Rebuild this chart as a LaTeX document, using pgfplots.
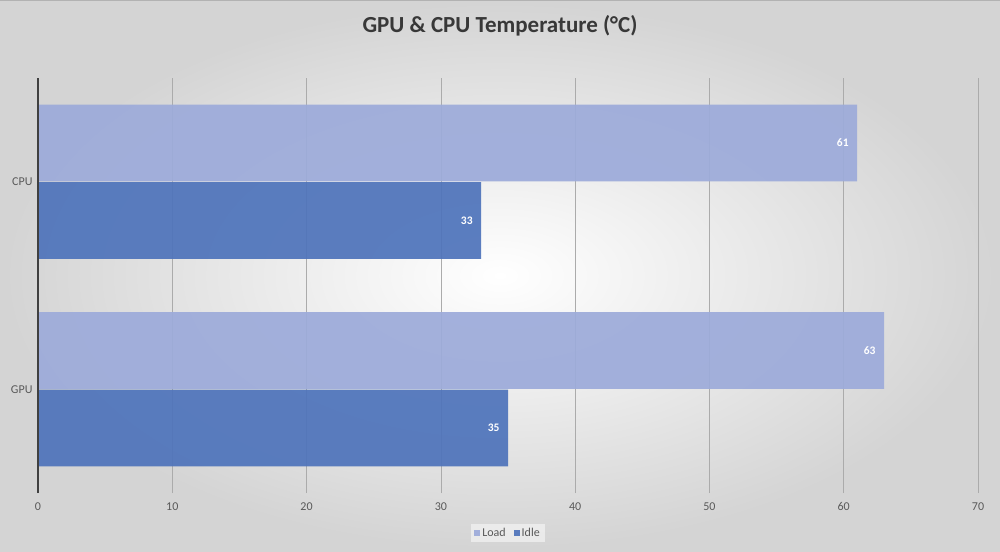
\documentclass[border=0pt]{standalone}
\usepackage{fontspec}
\setmainfont{Carlito}
\usepackage{pgfplots}
\pgfplotsset{compat=1.18}
\definecolor{loadc}{HTML}{9DABDA}
\definecolor{idlec}{HTML}{4F74BB}
\definecolor{txt}{HTML}{595959}
\begin{document}
\begin{tikzpicture}[x=1pt,y=1pt]
\useasboundingbox (0,0) rectangle (1000,551);
\shade[inner color=white, outer color=black!17] (0,0) rectangle (1000,551);
\draw[black!30, line width=1pt] (0,550.5) -- (1000,550.5);
\node[font=\fontsize{23}{26}\selectfont\bfseries, text=black!78] at (500,525) {GPU \& CPU Temperature (°C)};
\begin{axis}[
  at={(38pt,58pt)}, anchor=south west,
  scale only axis, width=940pt, height=415pt,
  xmin=0, xmax=70, ymin=-0.5, ymax=1.5,
  xtick={0,10,...,70},
  ytick={0,1}, yticklabels={GPU,CPU},
  major tick length=0pt,
  xmajorgrids, grid style={black!33, line width=0.6pt},
  separate axis lines,
  x axis line style={draw=none}, y axis line style={draw=none},
  /pgf/number format/assume math mode=true,
  tick label style={font=\fontsize{12}{14}\selectfont, text=txt},
  xticklabel style={yshift=-6pt},
  yticklabel style={xshift=-2pt},
  xbar, bar width=0.37,
  nodes near coords,
  nodes near coords style={anchor=east, xshift=-5pt, font=\fontsize{11.5}{13}\selectfont\bfseries, text=white},
  legend style={at={(axis description cs:0.5,-0.0964)}, anchor=center, draw=none, fill=white, fill opacity=0.5, text opacity=1, legend columns=2, font=\fontsize{12}{14}\selectfont, text=txt, /tikz/every even column/.append style={column sep=6pt}},
  legend image code/.code={\fill[#1] (1pt,-3pt) rectangle (7pt,3pt);},
  clip=false,
]
\addplot[fill=loadc, draw=none, fill opacity=0.93, text opacity=1, bar shift=0.187] coordinates {(63,0) (61,1)};
\addplot[fill=idlec, draw=none, fill opacity=0.93, text opacity=1, bar shift=-0.187] coordinates {(35,0) (33,1)};
\legend{Load,Idle}
\draw[black!75, line width=1.6pt] (axis cs:0,-0.5) -- (axis cs:0,1.5);
\end{axis}
\end{tikzpicture}
\end{document}
